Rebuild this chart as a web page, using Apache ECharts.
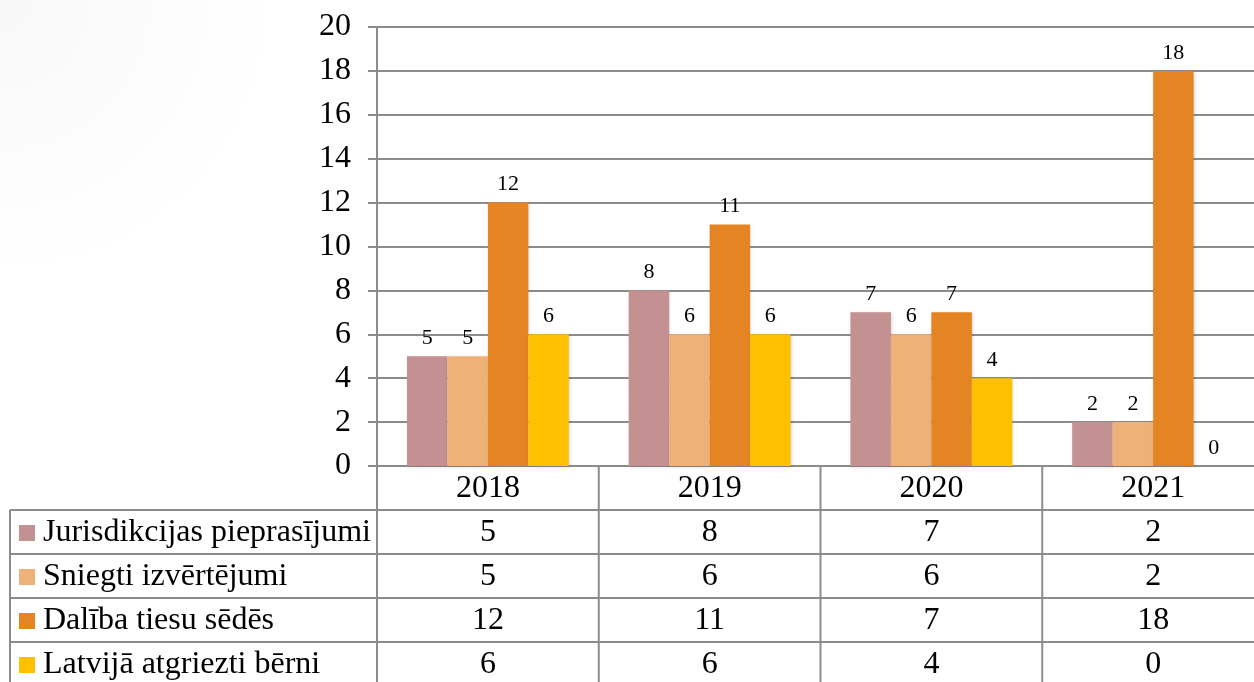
<!DOCTYPE html>
<html><head><meta charset="utf-8">
<script src="https://cdn.jsdelivr.net/npm/echarts@6/dist/echarts.min.js"></script>
<style>html,body{margin:0;padding:0;background:#fff}#c{width:1254px;height:682px}</style>
</head><body><div id="c"></div>
<script>
const categories = ['2018','2019','2020','2021'];
const seriesNames = ['Jurisdikcijas pieprasījumi','Sniegti izvērtējumi','Dalība tiesu sēdēs','Latvijā atgriezti bērni'];
const jurisdikcijas = [5, 8, 7, 2];
const izvertejumi = [5, 6, 6, 2];
const tiesuSedes = [12, 11, 7, 18];
const atgriezti = [6, 6, 4, 0];
const yTicks = [0,2,4,6,8,10,12,14,16,18,20];
const colors = ['#C39191','#EEB278','#E58422','#FFC000'];
const allData = [jurisdikcijas, izvertejumi, tiesuSedes, atgriezti];

const FONT = '"Liberation Serif","Times New Roman",serif';
const G = {left:377, top:27, width:887, height:439};
const rowH = 44;
const tableLeft = 10;
const lineColor = '#8c8c8c';
const BIG = 32;

const chart = echarts.init(document.getElementById('c'), null, {renderer:'canvas'});

const graphics = [];
graphics.push({type:'rect', z:-10, silent:true, shape:{x:0,y:0,width:1254,height:682},
  style:{fill:{type:'radial', x:0, y:0, r:0.4, colorStops:[{offset:0,color:'#f8f8f8'},{offset:1,color:'#ffffff'}]}}});

const catW = G.width / categories.length;
const bottom = G.top + G.height;
const tableBottom = bottom + rowH * (seriesNames.length + 1);
for (let i = 1; i <= seriesNames.length; i++) {
  const y = bottom + rowH * i;
  graphics.push({type:'line', silent:true, shape:{x1:tableLeft, y1:y, x2:1254, y2:y}, style:{stroke:lineColor, lineWidth:2}});
}
graphics.push({type:'line', silent:true, shape:{x1:tableLeft, y1:bottom+rowH, x2:tableLeft, y2:tableBottom}, style:{stroke:lineColor, lineWidth:2}});
for (let i = 0; i < categories.length; i++) {
  const x = G.left + catW * i;
  graphics.push({type:'line', silent:true, shape:{x1:x, y1:bottom, x2:x, y2:tableBottom}, style:{stroke:lineColor, lineWidth:2}});
}
seriesNames.forEach((name, r) => {
  const cy = bottom + rowH * (r + 1) + rowH / 2;
  graphics.push({type:'rect', silent:true, shape:{x:19, y:cy-7, width:16, height:16}, style:{fill:colors[r]}});
  graphics.push({type:'text', silent:true, style:{x:43, y:cy+1, text:name, fontFamily:FONT, fontSize:BIG, fill:'#000', verticalAlign:'middle', align:'left'}});
  allData[r].forEach((v, c) => {
    graphics.push({type:'text', silent:true, style:{x:G.left + catW*(c+0.5), y:cy+1, text:String(v), fontFamily:FONT, fontSize:BIG, fill:'#000', align:'center', verticalAlign:'middle'}});
  });
});

const option = {
  backgroundColor:'transparent',
  animation:false,
  grid:{left:G.left, top:G.top, width:G.width, height:G.height, containLabel:false, outerBoundsMode:'none'},
  xAxis:{type:'category', data:categories,
    axisLine:{lineStyle:{color:lineColor, width:2}},
    axisTick:{show:false},
    axisLabel:{fontFamily:FONT, fontSize:BIG, color:'#000', margin:7, hideOverlap:false}},
  yAxis:{type:'value', min:0, max:20, interval:2,
    axisLine:{show:true, lineStyle:{color:lineColor, width:2}},
    axisTick:{show:true, length:9, lineStyle:{color:lineColor, width:2}},
    axisLabel:{fontFamily:FONT, fontSize:BIG, color:'#000', margin:26,
      formatter: v => yTicks.includes(v) ? String(v) : ''},
    splitLine:{lineStyle:{color:lineColor, width:2}}},
  series: seriesNames.map((n, i) => ({
    name:n, type:'bar', data:allData[i], barGap:'0%', barCategoryGap:'27%',
    itemStyle:{color:colors[i], shadowColor:'rgba(0,0,0,0.15)', shadowBlur:3, shadowOffsetX:1, shadowOffsetY:1},
    label:{show:true, position:'top', distance:7, fontFamily:FONT, fontSize:22, color:'#000'}
  })),
  graphic: graphics
};
chart.setOption(option);
</script></body></html>
